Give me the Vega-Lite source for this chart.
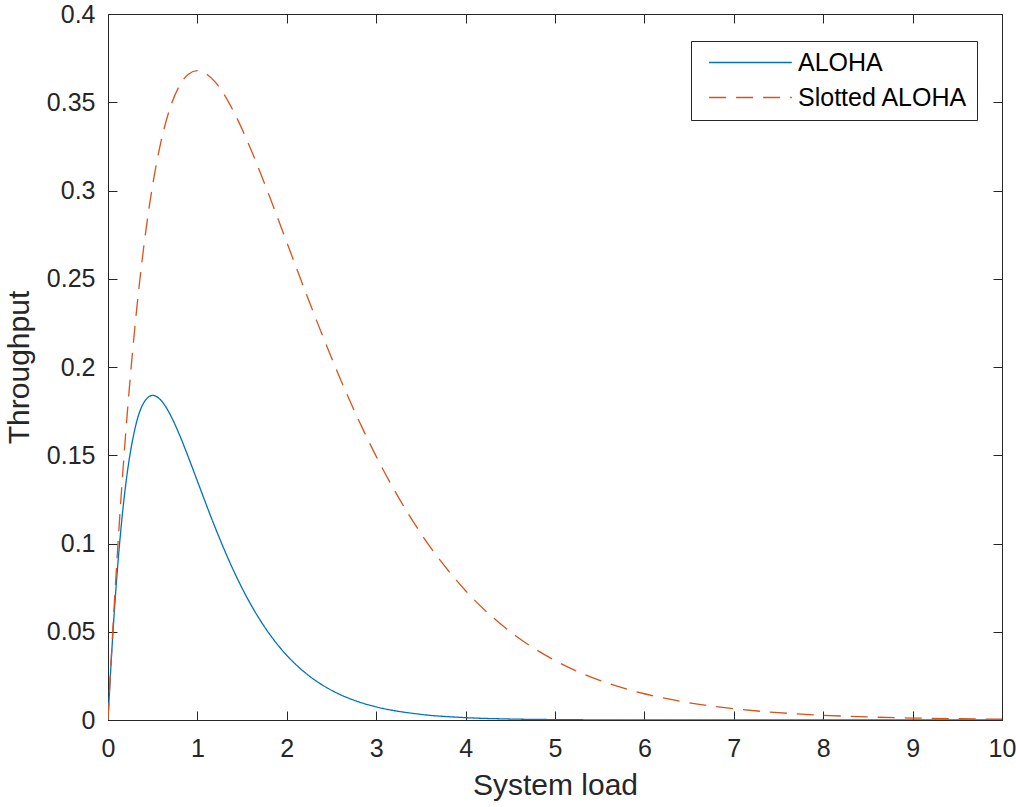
{
  "$schema": "https://vega.github.io/schema/vega-lite/v6.json",
  "width": 894,
  "height": 706,
  "autosize": {"type": "none"},
  "padding": {"left": 108, "top": 14, "right": 14, "bottom": 87},
  "background": "white",
  "config": {
    "view": {"stroke": "#262626", "strokeWidth": 1},
    "font": "Liberation Sans",
    "axis": {
      "domainColor": "#262626",
      "tickColor": "#262626",
      "labelColor": "#262626",
      "titleColor": "#262626",
      "labelFont": "Liberation Sans",
      "titleFont": "Liberation Sans",
      "labelFontSize": 25,
      "titleFontSize": 30,
      "titleFontWeight": "normal",
      "grid": false,
      "tickSize": -9,
      "domainWidth": 1,
      "tickWidth": 1,
      "labelFlush": false
    }
  },
  "datasets": {
    "curves": [
      {"G": 0, "S": 0, "series": "ALOHA"},
      {"G": 0.025, "S": 0.02378, "series": "ALOHA"},
      {"G": 0.05, "S": 0.04524, "series": "ALOHA"},
      {"G": 0.1, "S": 0.08187, "series": "ALOHA"},
      {"G": 0.15, "S": 0.11112, "series": "ALOHA"},
      {"G": 0.2, "S": 0.13406, "series": "ALOHA"},
      {"G": 0.3, "S": 0.16464, "series": "ALOHA"},
      {"G": 0.4, "S": 0.17973, "series": "ALOHA"},
      {"G": 0.5, "S": 0.18394, "series": "ALOHA"},
      {"G": 0.6, "S": 0.18072, "series": "ALOHA"},
      {"G": 0.7, "S": 0.17262, "series": "ALOHA"},
      {"G": 0.8, "S": 0.16152, "series": "ALOHA"},
      {"G": 0.9, "S": 0.14877, "series": "ALOHA"},
      {"G": 1.0, "S": 0.13534, "series": "ALOHA"},
      {"G": 1.2, "S": 0.10886, "series": "ALOHA"},
      {"G": 1.4, "S": 0.08513, "series": "ALOHA"},
      {"G": 1.6, "S": 0.06522, "series": "ALOHA"},
      {"G": 1.8, "S": 0.04918, "series": "ALOHA"},
      {"G": 2.0, "S": 0.03663, "series": "ALOHA"},
      {"G": 2.2, "S": 0.02701, "series": "ALOHA"},
      {"G": 2.4, "S": 0.01975, "series": "ALOHA"},
      {"G": 2.6, "S": 0.01434, "series": "ALOHA"},
      {"G": 2.8, "S": 0.01035, "series": "ALOHA"},
      {"G": 3.0, "S": 0.00744, "series": "ALOHA"},
      {"G": 3.5, "S": 0.00319, "series": "ALOHA"},
      {"G": 4.0, "S": 0.00134, "series": "ALOHA"},
      {"G": 4.5, "S": 0.00055, "series": "ALOHA"},
      {"G": 5.0, "S": 0.00023, "series": "ALOHA"},
      {"G": 5.5, "S": 0.00009, "series": "ALOHA"},
      {"G": 6.0, "S": 0.00004, "series": "ALOHA"},
      {"G": 7.0, "S": 0.00001, "series": "ALOHA"},
      {"G": 8.0, "S": 0.0, "series": "ALOHA"},
      {"G": 10.0, "S": 0.0, "series": "ALOHA"},
      {"G": 0, "S": 0, "series": "Slotted ALOHA"},
      {"G": 0.025, "S": 0.02438, "series": "Slotted ALOHA"},
      {"G": 0.05, "S": 0.04756, "series": "Slotted ALOHA"},
      {"G": 0.1, "S": 0.09048, "series": "Slotted ALOHA"},
      {"G": 0.15, "S": 0.12911, "series": "Slotted ALOHA"},
      {"G": 0.2, "S": 0.16375, "series": "Slotted ALOHA"},
      {"G": 0.3, "S": 0.22225, "series": "Slotted ALOHA"},
      {"G": 0.4, "S": 0.26813, "series": "Slotted ALOHA"},
      {"G": 0.5, "S": 0.30327, "series": "Slotted ALOHA"},
      {"G": 0.6, "S": 0.32929, "series": "Slotted ALOHA"},
      {"G": 0.7, "S": 0.34761, "series": "Slotted ALOHA"},
      {"G": 0.8, "S": 0.35946, "series": "Slotted ALOHA"},
      {"G": 0.9, "S": 0.36591, "series": "Slotted ALOHA"},
      {"G": 1.0, "S": 0.36788, "series": "Slotted ALOHA"},
      {"G": 1.2, "S": 0.36143, "series": "Slotted ALOHA"},
      {"G": 1.4, "S": 0.34524, "series": "Slotted ALOHA"},
      {"G": 1.6, "S": 0.32304, "series": "Slotted ALOHA"},
      {"G": 1.8, "S": 0.29754, "series": "Slotted ALOHA"},
      {"G": 2.0, "S": 0.27067, "series": "Slotted ALOHA"},
      {"G": 2.2, "S": 0.24377, "series": "Slotted ALOHA"},
      {"G": 2.4, "S": 0.21772, "series": "Slotted ALOHA"},
      {"G": 2.6, "S": 0.19311, "series": "Slotted ALOHA"},
      {"G": 2.8, "S": 0.17027, "series": "Slotted ALOHA"},
      {"G": 3.0, "S": 0.14936, "series": "Slotted ALOHA"},
      {"G": 3.5, "S": 0.10569, "series": "Slotted ALOHA"},
      {"G": 4.0, "S": 0.07326, "series": "Slotted ALOHA"},
      {"G": 4.5, "S": 0.04999, "series": "Slotted ALOHA"},
      {"G": 5.0, "S": 0.03369, "series": "Slotted ALOHA"},
      {"G": 5.5, "S": 0.02248, "series": "Slotted ALOHA"},
      {"G": 6.0, "S": 0.01487, "series": "Slotted ALOHA"},
      {"G": 6.5, "S": 0.00977, "series": "Slotted ALOHA"},
      {"G": 7.0, "S": 0.00638, "series": "Slotted ALOHA"},
      {"G": 7.5, "S": 0.00415, "series": "Slotted ALOHA"},
      {"G": 8.0, "S": 0.00268, "series": "Slotted ALOHA"},
      {"G": 8.5, "S": 0.00173, "series": "Slotted ALOHA"},
      {"G": 9.0, "S": 0.00111, "series": "Slotted ALOHA"},
      {"G": 9.5, "S": 0.00071, "series": "Slotted ALOHA"},
      {"G": 10.0, "S": 0.00045, "series": "Slotted ALOHA"}
    ]
  },
  "data": {"name": "curves"},
  "layer": [
    {
      "mark": {"type": "line", "interpolate": "monotone", "strokeWidth": 1.3, "clip": true},
      "encoding": {
        "x": {
          "field": "G", "type": "quantitative",
          "scale": {"domain": [0, 10], "nice": false, "zero": false},
          "axis": {"orient": "bottom", "title": "System load", "values": [0,1,2,3,4,5,6,7,8,9,10], "format": "d", "labelPadding": 25, "titlePadding": 9}
        },
        "y": {
          "field": "S", "type": "quantitative",
          "scale": {"domain": [0, 0.4], "nice": false, "zero": false},
          "axis": {"orient": "left", "title": "Throughput", "values": [0,0.05,0.1,0.15,0.2,0.25,0.3,0.35,0.4], "format": "~g", "labelPadding": 22, "titlePadding": 12}
        },
        "color": {
          "field": "series", "type": "nominal",
          "scale": {"domain": ["ALOHA", "Slotted ALOHA"], "range": ["#0072BD", "#D95319"]},
          "legend": {
            "orient": "none", "legendX": 583, "legendY": 27,
            "title": null,
            "symbolType": "M-0.33,0H7.65",
            "symbolSize": 430,
            "symbolStrokeWidth": 1.3,
            "symbolFillColor": "transparent",
            "labelFontSize": 25,
            "labelFont": "Liberation Sans",
            "labelColor": "#000000",
            "labelOffset": 73,
            "labelLimit": 400,
            "rowPadding": 9,
            "padding": 9,
            "strokeColor": "#262626",
            "fillColor": "white"
          }
        },
        "strokeDash": {
          "field": "series", "type": "nominal",
          "scale": {"domain": ["ALOHA", "Slotted ALOHA"], "range": [[1, 0], [17, 10]]},
          "legend": null
        }
      }
    },
    {
      "mark": {"type": "line", "opacity": 0},
      "encoding": {
        "x": {
          "field": "G", "type": "quantitative",
          "axis": {"orient": "top", "title": null, "labels": false, "domain": false, "values": [0,1,2,3,4,5,6,7,8,9,10]}
        },
        "y": {
          "field": "S", "type": "quantitative",
          "axis": {"orient": "right", "title": null, "labels": false, "domain": false, "values": [0,0.05,0.1,0.15,0.2,0.25,0.3,0.35,0.4]}
        }
      }
    }
  ],
  "resolve": {"axis": {"x": "independent", "y": "independent"}}
}
